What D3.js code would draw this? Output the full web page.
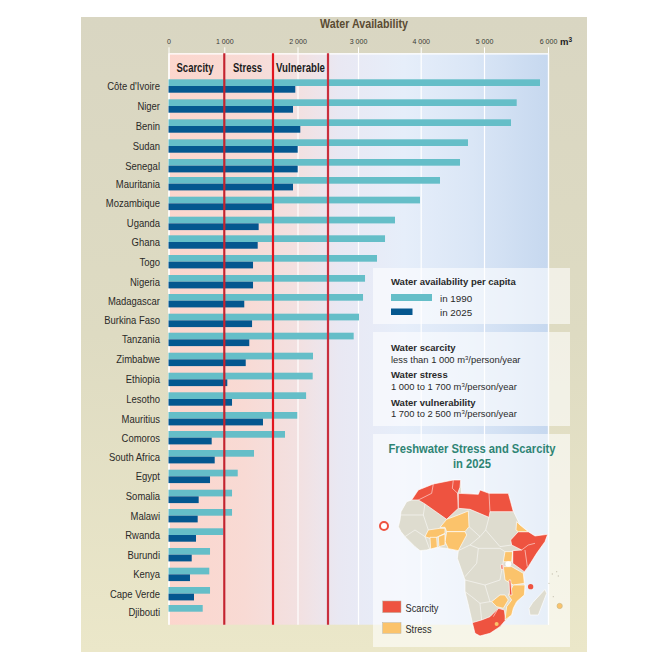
<!DOCTYPE html>
<html><head><meta charset="utf-8">
<script src="https://cdn.jsdelivr.net/npm/d3@7"></script>
<style>html,body{margin:0;padding:0;background:#fff}svg{display:block}
text{font-family:"Liberation Sans",Arial,sans-serif}</style>
</head><body><div id="c"></div>
<script>
const countries=["Côte d'Ivoire","Niger","Benin","Sudan","Senegal","Mauritania","Mozambique","Uganda","Ghana","Togo","Nigeria","Madagascar","Burkina Faso","Tanzania","Zimbabwe","Ethiopia","Lesotho","Mauritius","Comoros","South Africa","Egypt","Somalia","Malawi","Rwanda","Burundi","Kenya","Cape Verde","Djibouti"];
const avail1990=[5875,5511,5422,4747,4621,4305,3989,3590,3431,3303,3112,3080,3016,2928,2254,2249,2141,1997,1847,1427,1193,1111,1111,982,744,731,744,613];
const avail2025=[1973,1945,2046,2003,2003,1945,1690,1494,1480,1413,1413,1287,1399,1359,1308,1043,1111,1556,774,828,744,541,523,493,416,385,457,null];
const tickValues=[0,1000,2000,3000,4000,5000,6000];
const thresholds=[1000,1700,2500];
const bands=["Scarcity","Stress","Vulnerable"];

// The printed axis is not evenly spaced, so it is a piecewise scale.
const xDomain=[0,1000,1700,2000,2500,3000,4000,5000,6000];
const xRange=[168.5,224.3,273,297.5,328,358,420.7,484,548];
const rowTops=[79.3,99.3,119.3,139.3,159,177,196.7,216.7,235.3,255,275,294,313.7,332.7,352.7,372.7,392.3,412,431,450,469.7,489.7,509,528.3,548,567.7,587,605];
const W=669,H=669,top0=53.3,bot0=624.7,barH=6.7;
const x=d3.scaleLinear().domain(xDomain).range(xRange);
const y=d3.scaleOrdinal().domain(countries).range(rowTops);
const svg=d3.select("#c").append("svg").attr("width",W).attr("height",H);
const defs=svg.append("defs");
// Squeeze text horizontally: the print face is a condensed sans.
function squeeze(sel,f){sel.each(function(){this.setAttribute("textLength",this.getComputedTextLength()*f);this.setAttribute("lengthAdjust","spacingAndGlyphs");});return sel;}
function fitTo(sel,w){sel.attr("textLength",w).attr("lengthAdjust","spacingAndGlyphs");return sel;}
function grad(id,stops,vert){const g=defs.append("linearGradient").attr("id",id).attr("x1",0).attr("y1",0).attr("x2",vert?0:1).attr("y2",vert?1:0);
 stops.forEach(s=>g.append("stop").attr("offset",s[0]).attr("stop-color",s[1]));}
grad("outer",[[0,"#D9D6C2"],[0.5,"#DEDBC2"],[1,"#EBE7C9"]],true);
grad("panel",[[0,"#FCD6CD"],[0.2,"#F8DAD4"],[0.35,"#F2E1E2"],[0.45,"#E9E8F3"],[0.62,"#E6EEFA"],[0.8,"#DAE6F6"],[1,"#C6D8EF"]]);
svg.append("rect").attr("x",81).attr("y",17).attr("width",506).attr("height",635).attr("fill","url(#outer)");
svg.append("rect").attr("x",x(0)).attr("y",top0).attr("width",x(6000)-x(0)).attr("height",bot0-top0).attr("fill","url(#panel)");

// Gridlines, then tick stubs and labels
svg.append("g").attr("transform",`translate(0,${top0})`)
 .call(d3.axisTop(x).tickValues(tickValues).tickSize(-(bot0-top0)).tickFormat(""))
 .call(g=>{g.select(".domain").attr("stroke","#fff").attr("stroke-width",1.2);g.selectAll("line").attr("stroke","#fff").attr("stroke-width",1.2);});
const fmt=d=>d===0?"0":d3.format(",")(d).replace(","," ");
svg.append("g").attr("transform",`translate(0,${top0})`)
 .call(d3.axisTop(x).tickValues(tickValues).tickSize(6).tickPadding(3).tickFormat(fmt))
 .call(g=>{g.select(".domain").remove();g.selectAll("line").attr("stroke","#fff").attr("stroke-width",1);
  squeeze(g.selectAll("text").attr("font-size",8).attr("fill","#3a3a36").attr("font-family","Liberation Sans"),0.88);});
svg.append("text").attr("x",560).attr("y",45).attr("font-size",9.5).attr("font-weight","bold").attr("fill","#222")
 .text("m").append("tspan").attr("dy",-3).attr("font-size",6.5).text("3");
fitTo(svg.append("text").attr("x",364).attr("y",28).attr("text-anchor","middle").attr("font-size",13.5).attr("font-weight","bold").attr("fill","#5A4B33").text("Water Availability"),88);

// Bars
svg.append("g").selectAll("rect").data(countries).join("rect")
 .attr("x",x(0)).attr("y",d=>y(d)).attr("height",barH).attr("width",(d,i)=>x(avail1990[i])-x(0)).attr("fill","#65BEC8");
svg.append("g").selectAll("rect").data(countries.filter((d,i)=>avail2025[i]!=null)).join("rect")
 .attr("x",x(0)).attr("y",d=>y(d)+barH).attr("height",barH).attr("width",d=>x(avail2025[countries.indexOf(d)])-x(0)).attr("fill","#04578F");
squeeze(svg.append("g").selectAll("text").data(countries).join("text")
 .attr("x",160).attr("y",d=>y(d)+barH+4).attr("text-anchor","end").attr("font-size",11).attr("fill","#2a2a28").text(d=>d),0.86);

// Threshold lines
svg.append("g").selectAll("line").data(thresholds).join("line")
 .attr("x1",d=>x(d)).attr("x2",d=>x(d)).attr("y1",top0).attr("y2",bot0)
 .attr("stroke",(d,i)=>["#C4232F","#E2161F","#C92F3E"][i]).attr("stroke-width",2.2);
const bandX=[195,247.5,300.5],bandW=[37,29,49];
svg.append("g").selectAll("text").data(bands).join("text")
 .attr("x",(d,i)=>bandX[i]).attr("y",71.5).attr("text-anchor","middle").attr("font-size",12).attr("font-weight","bold").attr("fill","#1c1c1c")
 .attr("textLength",(d,i)=>bandW[i]).attr("lengthAdjust","spacingAndGlyphs").text(d=>d);

// Overlay boxes
[[268,56],[332,94],[434,213]].forEach(b=>svg.append("rect").attr("x",373).attr("y",b[0]).attr("width",197).attr("height",b[1]).attr("fill","#fff").attr("fill-opacity",0.58));

// Legend
function t(xp,yp,s,o){o=o||{};return svg.append("text").attr("x",xp).attr("y",yp).attr("font-size",o.size||9.4).attr("font-weight",o.bold?"bold":null).attr("fill",o.fill||"#2a2a2a").text(s);}
t(391,285,"Water availability per capita",{bold:1,size:9.5});
svg.append("rect").attr("x",391).attr("y",294).attr("width",41).attr("height",7).attr("fill","#65BEC8");
svg.append("rect").attr("x",391).attr("y",308.5).attr("width",21.5).attr("height",6.5).attr("fill","#04578F");
t(440,301.5,"in 1990",{size:9.8});t(440,316,"in 2025",{size:9.8});
function sup(xp,yp,a,b){const e=t(xp,yp,a);e.append("tspan").attr("dy",-3).attr("font-size",6).text("3");e.append("tspan").attr("dy",3).text(b);}
t(391,351,"Water scarcity",{bold:1,size:9.5});sup(391,363,"less than 1 000 m","/person/year");
t(391,378,"Water stress",{bold:1,size:9.5});sup(391,390,"1 000 to 1 700 m","/person/year");
t(391,405.5,"Water vulnerability",{bold:1,size:9.5});sup(391,417,"1 700 to 2 500 m","/person/year");
[["Freshwater Stress and Scarcity",167],["in 2025",38]].forEach((s,i)=>fitTo(svg.append("text").attr("x",472).attr("y",453+i*15).attr("text-anchor","middle").attr("font-size",13).attr("font-weight","bold").attr("fill","#2E8474").text(s[0]),s[1]));

// Map (coordinates in a 3x tracing space)
const GREY="#DEDCCF",RED="#EE5340",ORG="#FBC36B";
const shapes=[
 [GREY,[[140,210],[160,180],[205,162],[265,150],[287,150],[290,190],[340,193],[345,180],[372,190],[430,190],[437,215],[445,243],[458,270],[465,285],[490,305],[510,318],[548,313],[540,335],[515,370],[490,410],[475,430],[478,460],[482,475],[478,495],[460,510],[445,535],[440,555],[420,575],[405,590],[375,610],[345,618],[330,610],[322,578],[310,525],[300,485],[300,450],[277,385],[280,362],[250,356],[215,352],[185,360],[165,362],[150,350],[135,335],[120,320],[108,305],[100,290],[105,270],[108,245],[125,215]]],
 [GREY,[[540,478],[545,490],[520,555],[495,555],[492,535],[503,518]]],
 [RED,[[140,210],[160,180],[205,162],[265,150],[287,150],[285,172],[278,190],[280,235],[245,268],[180,222],[160,210]]],
 [RED,[[280,190],[340,193],[345,180],[372,190],[430,190],[437,215],[445,245],[375,245],[372,262],[315,238],[280,235]]],
 [RED,[[440,345],[437,330],[460,305],[490,305],[510,318],[548,313],[540,335],[515,370],[490,410],[478,425],[443,400],[443,362],[470,360]]],
 [RED,[[322,578],[350,570],[375,560],[400,535],[418,540],[422,570],[405,590],[375,610],[345,618],[330,610]]],
 [ORG,[[455,275],[465,285],[490,305],[460,305],[453,300]]],
 [ORG,[[310,243],[312,290],[300,305],[245,305],[240,292],[225,292],[245,268],[280,255]]],
 [ORG,[[245,305],[300,305],[305,315],[280,362],[250,356],[240,335]]],
 [ORG,[[180,320],[190,300],[225,295],[240,295],[240,310],[215,322],[195,325]]],
 [ORG,[[195,322],[215,322],[217,352],[197,357]]],
 [ORG,[[220,320],[240,312],[240,345],[222,350]]],
 [ORG,[[420,365],[443,365],[440,395],[415,395]]],
 [ORG,[[415,410],[440,410],[475,430],[478,460],[445,465],[420,450]]],
 [ORG,[[445,465],[480,465],[478,495],[455,515],[445,535],[440,555],[420,570],[425,530],[440,510],[430,495]]],
 [ORG,[[380,515],[405,495],[420,495],[430,510],[415,535],[395,530]]],
 [RED,[[408,404],[415,404],[415,418],[408,418]]],
 [RED,[[432,450],[437,450],[441,495],[434,495]]]
];
const borders=[
 [[205,162],[200,190],[160,210]],[[265,150],[262,175],[278,190]],[[372,190],[375,245]],
 [[443,362],[443,400]],[[470,360],[490,345],[510,340]],[[480,360],[487,410]],
 [[120,320],[150,300],[180,320],[195,360]],[[108,255],[175,255],[180,222]],[[175,255],[190,300]],
 [[312,290],[345,320],[362,300],[372,262]],[[362,300],[405,350],[440,345]],[[345,320],[315,345],[280,362]],
 [[315,345],[340,355],[405,355],[420,365]],[[340,355],[335,400],[300,440]],[[415,395],[405,450],[360,465],[300,450]],
 [[360,465],[375,515],[345,520],[320,500],[300,485]],[[345,520],[350,570]],[[375,515],[380,515]],[[400,535],[385,560]]
];
const line=d3.line();
const m=svg.append("g").attr("transform","translate(365,430) scale(0.3333)");
m.selectAll("path.s").data(shapes).join("path").attr("class","s").attr("d",d=>line(d[1])+"Z").attr("fill",d=>d[0]).attr("stroke","#fff").attr("stroke-width",2).attr("stroke-linejoin","round");
m.selectAll("path.b").data(borders).join("path").attr("class","b").attr("d",d=>line(d)).attr("fill","none").attr("stroke","#fff").attr("stroke-width",1.6);
m.append("ellipse").attr("cx",430).attr("cy",402).attr("rx",9).attr("ry",8).attr("fill","#fff");
m.append("circle").attr("cx",57).attr("cy",288).attr("r",12).attr("fill","#fff").attr("stroke",RED).attr("stroke-width",6);
m.append("circle").attr("cx",497).attr("cy",470).attr("r",8).attr("fill",RED);
m.append("circle").attr("cx",584).attr("cy",528).attr("r",8).attr("fill",ORG).attr("stroke","#C9B98A").attr("stroke-width",2);
m.append("circle").attr("cx",395).attr("cy",582).attr("r",6).attr("fill",ORG);
m.selectAll("circle.i").data([[562,432],[575,425],[580,438],[552,460],[565,500]]).join("circle").attr("class","i").attr("cx",d=>d[0]).attr("cy",d=>d[1]).attr("r",2).attr("fill","#C9C6B5");
m.append("rect").attr("x",53).attr("y",513).attr("width",55).attr("height",35).attr("fill",RED).attr("stroke","#B9B5A5").attr("stroke-width",1.5);
m.append("rect").attr("x",53).attr("y",578).attr("width",55).attr("height",32).attr("fill",ORG).attr("stroke","#B9B5A5").attr("stroke-width",1.5);
fitTo(svg.append("text").attr("x",405.5).attr("y",612).attr("font-size",11).attr("fill","#2a2a2a").text("Scarcity"),33);
fitTo(svg.append("text").attr("x",405.5).attr("y",633).attr("font-size",11).attr("fill","#2a2a2a").text("Stress"),26);
</script></body></html>
